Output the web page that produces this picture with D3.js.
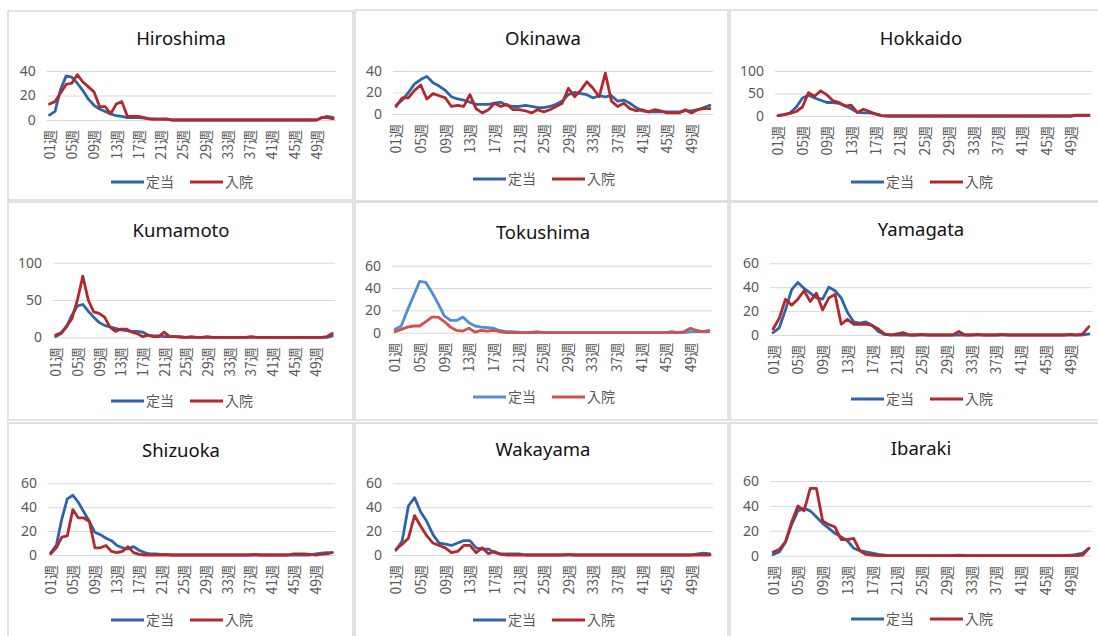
<!DOCTYPE html>
<html>
<head>
<meta charset="utf-8">
<script src="https://cdn.jsdelivr.net/npm/d3@7"></script>
<style>
  body { margin: 0; background: #fff; }
  svg { display: block; font-family: "Noto Sans", "Noto Sans CJK JP", sans-serif; }
</style>
</head>
<body>
<svg id="chart" width="1098" height="636"></svg>
<script>
// categories: 52 weeks, every 4th one labelled
let weeks = d3.range(1, 53).map(w => String(w).padStart(2, "0") + "週");
let tickWeeks = weeks.filter((w, i) => i % 4 === 0);
let seriesNames = ["定当", "入院"];
let prefectures = ["Hiroshima", "Okinawa", "Hokkaido", "Kumamoto", "Tokushima", "Yamagata", "Shizuoka", "Wakayama", "Ibaraki"];

let hiroshimaTeitou = [4, 7, 25, 36, 35, 30, 24, 17, 12, 9, 7, 5, 3.5, 3, 2, 2, 2, 1.5, 1, 1, 0.5, 0.5, 0, 0, 0, 0, 0, 0, 0, 0, 0, 0, 0, 0, 0, 0, 0, 0, 0, 0, 0, 0, 0, 0, 0, 0, 0, 0, 0, 2, 3, 2];
let hiroshimaNyuin = [13, 15, 22, 29, 30, 37, 31, 27, 23, 11, 11, 5, 13, 15, 3, 3, 3, 2, 1, 0.5, 1, 1, 0, 0, 0, 0, 0, 0, 0, 0, 0, 0, 0, 0, 0, 0, 0, 0, 0, 0, 0, 0, 0, 0, 0, 0, 0, 0, 0, 2, 2, 1];
let okinawaTeitou = [8, 13, 20, 28, 32, 35, 29, 26, 22, 16, 14, 13, 11, 9, 9, 9, 10, 11, 8, 7, 7, 8, 7, 6, 6, 7, 9, 12, 18, 20, 19, 18, 15, 17, 16, 17, 12, 13, 10, 6, 3, 2, 2, 2, 2, 2, 2, 3, 3, 4, 6, 8];
let okinawaNyuin = [7, 15, 15, 22, 27, 14, 19, 17, 15, 7, 8, 7, 18, 5, 1, 4, 10, 7, 9, 4, 4, 3, 1, 4, 2, 4, 7, 10, 24, 16, 22, 30, 24, 16, 38, 12, 7, 10, 5, 3, 4, 2, 4, 3, 1, 1, 1, 4, 1, 4, 5, 5];
let hokkaidoTeitou = [1, 3, 7, 20, 40, 46, 40, 35, 30, 30, 28, 23, 16, 8, 7, 7, 5, 1, 0, 0, 0, 0, 0, 0, 0, 0, 0, 0, 0, 0, 0, 0, 0, 0, 0, 0, 0, 0, 0, 0, 0, 0, 0, 0, 0, 0, 0, 0, 0, 1, 1, 1];
let hokkaidoNyuin = [1, 3, 6, 10, 20, 52, 44, 56, 47, 34, 30, 22, 24, 8, 15, 10, 4, 1, 0, 0, 0, 0, 0, 0, 0, 0, 0, 0, 0, 0, 0, 0, 0, 0, 0, 0, 0, 0, 0, 0, 0, 0, 0, 0, 0, 0, 0, 0, 0, 2, 2, 2];
let kumamotoTeitou = [1, 5, 14, 30, 42, 44, 35, 27, 20, 16, 14, 12, 10, 9, 8, 8, 7, 3, 2, 2, 1, 1, 1, 0, 0, 0, 0, 0, 0, 0, 0, 0, 0, 0, 0, 0, 0, 0, 0, 0, 0, 0, 0, 0, 0, 0, 0, 0, 0, 0, 0, 2];
let kumamotoNyuin = [3, 6, 15, 25, 50, 82, 50, 34, 32, 27, 14, 8, 11, 11, 7, 5, 1, 3, 1, 1, 7, 1, 1, 1, 0, 1, 0, 0, 1, 0, 0, 0, 0, 0, 0, 0, 1, 0, 0, 0, 0, 0, 0, 0, 0, 0, 0, 0, 0, 0, 1, 5];
let tokushimaTeitou = [3, 6, 20, 33, 46, 45, 36, 26, 15, 11, 11, 14, 9, 6, 5, 4.5, 4, 2, 1, 1, 0.5, 0, 0, 0, 0, 0, 0, 0, 0, 0, 0, 0, 0, 0, 0, 0, 0, 0, 0, 0, 0, 0, 0, 0, 0, 0, 0, 0, 1, 1, 1, 2];
let tokushimaNyuin = [1, 3, 5, 6, 6, 10, 14, 14, 10, 5, 2, 1.5, 4, 0.5, 2, 1.5, 2, 1, 0, 0, 0, 0, 0, 1, 0, 0, 0, 0, 0, 0, 0, 0, 0, 0, 0, 0, 0, 0, 0, 0, 0, 0, 0, 0, 0, 1, 0, 1, 4, 2, 1, 1];
let yamagataTeitou = [2, 6, 21, 38, 44, 39, 35, 31, 30, 40, 37, 31, 19, 11, 10, 11, 8, 3, 0.5, 0, 0, 0, 0, 0, 0, 0, 0, 0, 0, 0, 0, 0, 0, 0, 0, 0, 0, 0, 0, 0, 0, 0, 0, 0, 0, 0, 0, 0, 0, 0, 0, 1];
let yamagataNyuin = [5, 14, 30, 25, 30, 37, 28, 35, 21, 31, 34, 9, 13, 9, 9, 9, 8, 5, 1, 0, 1, 2, 0, 0, 0.5, 0, 0, 0, 0, 0, 3, 0, 0, 0.5, 0, 0, 0, 0.5, 0, 0, 0, 0, 0, 0, 0, 0, 0, 0, 0.5, 0, 1, 7];
let shizuokaTeitou = [2, 8, 30, 47, 50, 44, 36, 28, 19, 17, 14, 12, 8, 6, 5, 7, 4, 2, 1, 1, 0.5, 0.5, 0, 0, 0, 0, 0, 0, 0, 0, 0, 0, 0, 0, 0, 0, 0, 0, 0, 0, 0, 0, 0, 0, 0, 0, 0, 0, 1, 1.5, 2, 2];
let shizuokaNyuin = [1, 6, 15, 16, 38, 31, 31, 28, 6, 6, 8, 3, 2, 3, 7, 2, 0.5, 0, 0, 0, 0, 0, 0, 0, 0, 0, 0, 0, 0, 0, 0, 0, 0, 0, 0, 0, 0, 0.5, 0, 0, 0, 0, 0, 0, 1, 1, 1, 0.5, 0, 0.5, 1, 2];
let wakayamaTeitou = [4, 12, 41, 48, 36, 28, 17, 10, 9, 8, 10, 12, 12, 6, 5, 5, 2, 1, 1, 1, 1, 0, 0, 0, 0, 0, 0, 0, 0, 0, 0, 0, 0, 0, 0, 0, 0, 0, 0, 0, 0, 0, 0, 0, 0, 0, 0, 0, 0, 1, 1.5, 1];
let wakayamaNyuin = [5, 9, 14, 33, 24, 16, 10, 8, 6, 2, 3, 8, 8, 2, 6, 1, 3, 0.5, 0, 0, 0, 0, 0, 0, 0, 0, 0, 0, 0.5, 0, 0, 0, 0, 0, 0, 0, 0, 0, 0, 0, 0, 0, 0, 0, 0, 0, 0, 0, 0, 0, 0, 0];
let ibarakiTeitou = [1, 3, 11, 25, 36, 38, 36, 31, 26, 22, 18, 15, 12, 6, 4, 3, 2, 1, 0.5, 0, 0, 0, 0, 0, 0, 0, 0, 0, 0, 0, 0, 0, 0, 0, 0, 0, 0, 0, 0, 0, 0, 0, 0, 0, 0, 0, 0, 0, 0, 1, 2, 6];
let ibarakiNyuin = [3, 5, 11, 27, 40, 36, 54, 54, 28, 25, 23, 13, 13, 14, 4, 1, 0.5, 0, 0, 0, 0, 0, 0, 0, 0, 0, 0, 0, 0, 0, 0.5, 0, 0, 0, 0, 0, 0, 0, 0, 0, 0, 0, 0, 0, 0, 0, 0, 0, 0.5, 0, 0.5, 6];

// y tick labels of each panel
let ticks20to40 = [0, 20, 40];
let ticks50to100 = [0, 50, 100];
let ticks20to60 = [0, 20, 40, 60];

let panels = [
  { name: prefectures[0], teitou: hiroshimaTeitou, nyuin: hiroshimaNyuin, ticks: ticks20to40 },
  { name: prefectures[1], teitou: okinawaTeitou, nyuin: okinawaNyuin, ticks: ticks20to40 },
  { name: prefectures[2], teitou: hokkaidoTeitou, nyuin: hokkaidoNyuin, ticks: ticks50to100 },
  { name: prefectures[3], teitou: kumamotoTeitou, nyuin: kumamotoNyuin, ticks: ticks50to100 },
  { name: prefectures[4], teitou: tokushimaTeitou, nyuin: tokushimaNyuin, ticks: ticks20to60, light: true },
  { name: prefectures[5], teitou: yamagataTeitou, nyuin: yamagataNyuin, ticks: ticks20to60 },
  { name: prefectures[6], teitou: shizuokaTeitou, nyuin: shizuokaNyuin, ticks: ticks20to60 },
  { name: prefectures[7], teitou: wakayamaTeitou, nyuin: wakayamaNyuin, ticks: ticks20to60 },
  { name: prefectures[8], teitou: ibarakiTeitou, nyuin: ibarakiNyuin, ticks: ticks20to60 }
];

// where each small chart sits on the page
let layout = [
  { cx: 181, cell: [8, 11, 345, 189], x0: 46.7, x1: 336, yTop: 71, yZero: 120, titleY: 45, legendY: 182 },
  { cx: 543, cell: [355, 10, 373, 191], x0: 393, x1: 713, yTop: 71, yZero: 114, titleY: 45, legendY: 179 },
  { cx: 921, cell: [730, 10, 380, 191], x0: 775, x1: 1092, yTop: 71, yZero: 116, titleY: 45, legendY: 182 },
  { cx: 181, cell: [8, 202, 345, 218], x0: 53, x1: 335, yTop: 262.7, yZero: 337.3, titleY: 237, legendY: 401 },
  { cx: 543, cell: [355, 202, 373, 218], x0: 392, x1: 712, yTop: 265.7, yZero: 332.7, titleY: 239, legendY: 397 },
  { cx: 921, cell: [730, 202, 380, 218], x0: 770, x1: 1092, yTop: 263.3, yZero: 335, titleY: 236, legendY: 399 },
  { cx: 181, cell: [8, 423, 345, 220], x0: 48, x1: 335, yTop: 483.3, yZero: 555, titleY: 457, legendY: 620 },
  { cx: 543, cell: [355, 423, 373, 220], x0: 393, x1: 713, yTop: 483.3, yZero: 555, titleY: 456, legendY: 620 },
  { cx: 921, cell: [730, 423, 380, 220], x0: 770, x1: 1092, yTop: 481, yZero: 555.7, titleY: 455, legendY: 619 }
];

let svg = d3.select("#chart");

panels.forEach((p, i) => drawPanel(p, layout[i]));

function drawPanel(p, box) {
  let colors = p.light ? ["#4e8fd6", "#d64f4f"] : ["#2e64aa", "#b3282d"];
  let g = svg.append("g");

  g.append("rect")
    .attr("x", box.cell[0])
    .attr("y", box.cell[1])
    .attr("width", box.cell[2])
    .attr("height", box.cell[3])
    .attr("fill", "#fff")
    .attr("stroke", "#d9d9d9")
    .attr("stroke-width", 1.5);

  g.append("text")
    .attr("x", box.cx)
    .attr("y", box.titleY)
    .attr("text-anchor", "middle")
    .attr("font-size", 18.5)
    .attr("fill", "#111")
    .text(p.name);

  let x = d3.scalePoint().domain(weeks).range([box.x0, box.x1]).padding(0.5);
  let y = d3.scaleLinear().domain([0, d3.max(p.ticks)]).range([box.yZero, box.yTop]);

  // gridlines + y labels
  g.append("g")
    .attr("transform", `translate(${box.x0},0)`)
    .call(d3.axisLeft(y).tickValues(p.ticks).tickSize(-(box.x1 - box.x0)).tickPadding(11))
    .attr("font-family", null)
    .attr("font-size", 14)
    .call(a => a.select(".domain").remove())
    .call(a => a.selectAll("line").attr("stroke", "#d9d9d9"))
    .call(a => a.selectAll("text").attr("fill", "#595959"));

  // rotated week labels
  g.append("g")
    .attr("transform", `translate(0,${box.yZero})`)
    .call(d3.axisBottom(x).tickValues(tickWeeks).tickSize(0))
    .attr("font-family", "'Noto Sans CJK JP', sans-serif")
    .attr("font-size", 14)
    .call(a => a.select(".domain").remove())
    .call(a => a.selectAll("text")
      .attr("fill", "#595959")
      .attr("transform", "rotate(-90)")
      .attr("text-anchor", "end")
      .attr("x", -10)
      .attr("y", 0)
      .attr("dy", "0.35em"));

  let line = d3.line()
    .x((d, i) => x(weeks[i]))
    .y(d => y(d));

  [p.teitou, p.nyuin].forEach((s, k) => {
    g.append("path")
      .datum(s)
      .attr("d", line)
      .attr("fill", "none")
      .attr("stroke", colors[k])
      .attr("stroke-width", 2.8)
      .attr("stroke-linejoin", "round")
      .attr("stroke-linecap", "round");
  });

  // legend
  let lg = g.append("g")
    .attr("transform", `translate(${box.cx},${box.legendY})`)
    .attr("font-family", "'Noto Sans CJK JP', sans-serif");
  let offsets = [-70, 9];
  seriesNames.forEach((name, k) => {
    lg.append("line")
      .attr("x1", offsets[k])
      .attr("x2", offsets[k] + 33)
      .attr("stroke", colors[k])
      .attr("stroke-width", 3);
    lg.append("text")
      .attr("x", offsets[k] + 35)
      .attr("dy", "0.35em")
      .attr("font-size", 14)
      .attr("fill", "#595959")
      .text(name);
  });
}
</script>
</body>
</html>
